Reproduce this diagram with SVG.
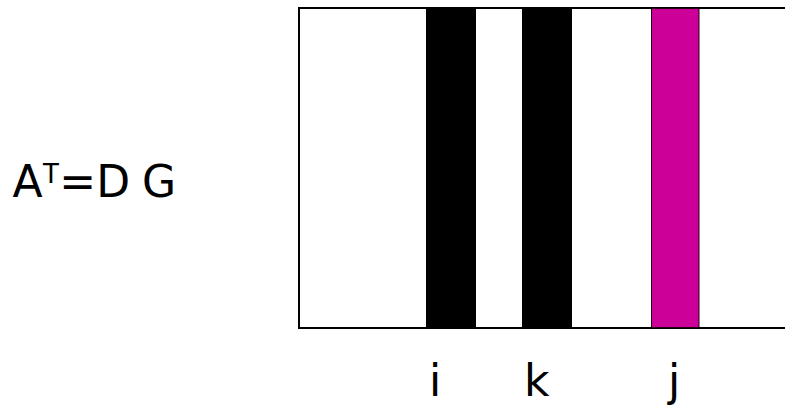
<svg xmlns="http://www.w3.org/2000/svg" width="785" height="406" viewBox="0 0 785 406">
<style>
  .t { font-family: "DejaVu Sans", Verdana, sans-serif; fill: #000; }
  .bar { fill: #000; }
  .hl { fill: #CC0099; stroke: #220011; stroke-width: 1; }
</style>
<rect width="785" height="406" fill="#fff"/>
<g id="equation">
  <text class="t" font-size="44" y="197"><tspan x="12.5">A</tspan><tspan x="43" y="183" font-size="26">T</tspan><tspan x="59.2" y="197">=</tspan><tspan x="96.3">D</tspan><tspan x="142">G</tspan></text>
</g>
<g id="matrix">
  <rect x="299" y="8" width="520" height="320" fill="#fff" stroke="#000" stroke-width="2"/>
  <rect id="col-i" class="bar" x="426" y="9" width="50" height="318"/>
  <rect id="col-k" class="bar" x="522" y="9" width="50" height="318"/>
  <rect id="col-j" class="hl" x="651.5" y="8.5" width="47.5" height="319"/>
</g>
<g id="labels">
  <text class="t" font-size="44" x="429" y="396">i</text>
  <text class="t" font-size="44" x="524" y="396">k</text>
  <text class="t" font-size="44" x="668" y="396">j</text>
</g>
</svg>
